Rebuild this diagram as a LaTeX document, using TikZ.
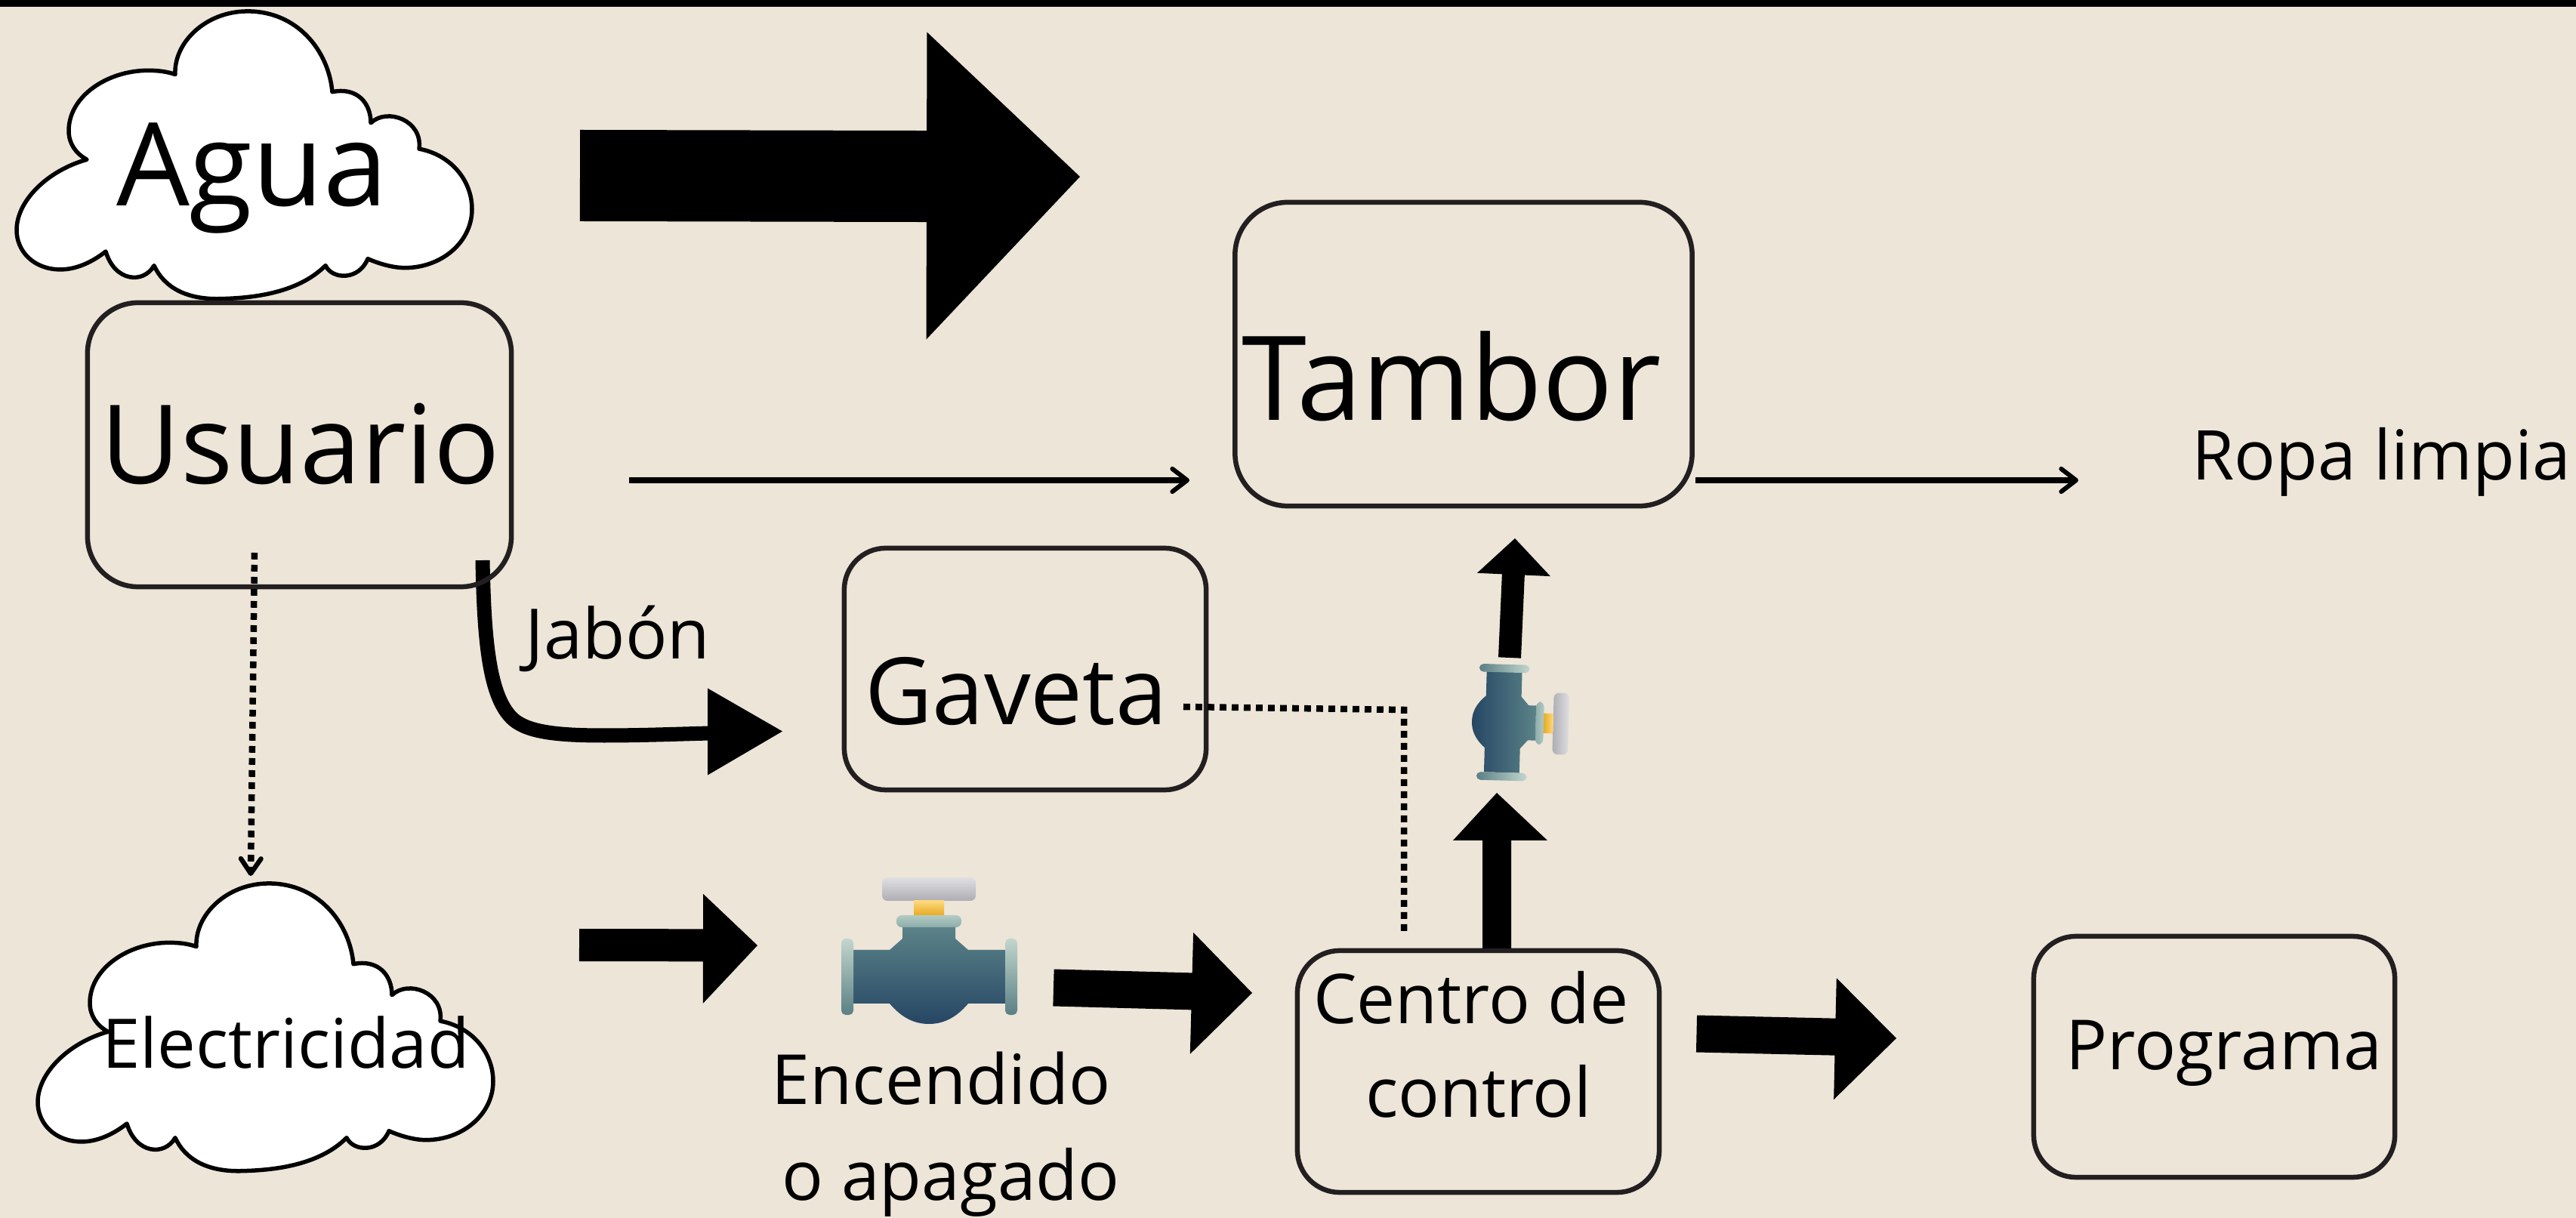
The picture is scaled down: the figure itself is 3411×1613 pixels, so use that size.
\documentclass[tikz,border=0pt]{standalone}
\usepackage{fontspec}
\setmainfont{Open Sans}
\usetikzlibrary{calc,arrows.meta}
\definecolor{bgc}{HTML}{ECE5D8}
\definecolor{boxc}{HTML}{231F20}
\definecolor{hndA}{HTML}{E0DFE3}
\definecolor{hndB}{HTML}{AEADB3}
\definecolor{stmA}{HTML}{FDD97E}
\definecolor{stmB}{HTML}{E6A81C}
\definecolor{colA}{HTML}{B3CBC3}
\definecolor{colB}{HTML}{8CACAA}
\definecolor{bodA}{HTML}{5B8388}
\definecolor{bodB}{HTML}{264664}
\definecolor{flgA}{HTML}{C2D6CC}
\definecolor{flgB}{HTML}{5A7F85}
\def\px{0.28453pt}
\newcommand\fsz[1]{\dimen0=0.28453pt \dimen0=#1\dimen0 \fontsize{\the\dimen0}{\the\dimen0}\selectfont}
% block arrow: tail, tip, half shaft, head half left, head half right, head length
\newcommand\blockarrow[6]{%
  \coordinate (ba) at ($(#2)!#6*0.01cm!(#1)$);
  \fill[black] ($(#1)!#3*0.01cm!90:(#2)$) -- ($(ba)!#3*0.01cm!-90:(#1)$)
     -- ($(ba)!#4*0.01cm!-90:(#1)$) -- (#2) -- ($(ba)!#5*0.01cm!90:(#1)$)
     -- ($(ba)!#3*0.01cm!90:(#1)$) -- ($(#1)!#3*0.01cm!-90:(#2)$) -- cycle;}
\tikzset{
  lbl/.style={anchor=base,inner sep=0pt,outer sep=0pt,text=black,font=\fsz{#1}},
  boxst/.style={draw=boxc,line width=6.5*\px,inner sep=0pt,outer sep=0pt,rounded corners=#1*\px},
  thinarrow/.style={black,line width=8.5*\px,-{Straight Barb[length=5.6pt,width=8.6pt,line width=1.7pt,round]}},
  dotline/.style={black,line width=8.5*\px,dash pattern=on 2.5pt off 2.05pt},
  vshade/.style 2 args={top color=#1,bottom color=#2,shading angle=\valveang},
  cloudpic/.pic={
    \draw[fill=white,draw=black,line width=5.5*\px,line join=round,yscale=0.7467]
      (232,132) .. controls (230,76) and (272,20) .. (328,20)
      .. controls (393,20) and (435,89) .. (440,163)
      .. controls (473,154) and (491,183) .. (491,218)
      .. controls (513,190) and (560,214) .. (555,264)
      .. controls (598,275) and (625,321) .. (625,371)
      .. controls (625,429) and (585,475) .. (536,475)
      .. controls (522,475) and (504,469) .. (487,459)
      .. controls (475,498) and (440,496) .. (431,471)
      .. controls (393,522) and (330,529) .. (290,530)
      .. controls (246,531) and (217,509) .. (204,471)
      .. controls (190,504) and (152,500) .. (140,446)
      .. controls (121,466) and (100,478) .. (80,478)
      .. controls (45,478) and (22,446) .. (22,408)
      .. controls (22,357) and (62,303) .. (115,283)
      .. controls (100,272) and (91,254) .. (91,232)
      .. controls (91,170) and (143,125) .. (196,125)
      .. controls (210,125) and (221,127) .. (232,132) -- cycle;
  },
  valve/.pic={
    \path[vshade={hndA}{hndB},rounded corners=2pt] (-62,-97) rectangle (62,-66);
    \path[vshade={stmA}{stmB}] (-20,-66) rectangle (20,-46);
    \path[vshade={colA}{colB},rounded corners=2pt] (-43,-47) rectangle (43,-31);
    \path[vshade={bodA}{bodB}]
      (-35,-31) -- (35,-31) -- (35,-16) -- (52,-1) -- (101,-1) -- (101,70) -- (52,70)
      .. controls (35,90) and (18,97) .. (0,97)
      .. controls (-18,97) and (-35,90) .. (-52,70)
      -- (-101,70) -- (-101,-1) -- (-52,-1) -- (-35,-16) -- cycle;
    \path[vshade={flgA}{flgB},rounded corners=1.6pt] (-116,-16) rectangle (-100,85);
    \path[vshade={flgA}{flgB},rounded corners=1.6pt] (101,-16) rectangle (117,85);
  }
}
\begin{document}
\begin{tikzpicture}[x=0.01cm,y=-0.01cm]
\useasboundingbox (0,0) rectangle (3411,1613);
\fill[bgc] (0,0) rectangle (3411,1613);
\fill[black] (0,0) rectangle (3411,9);

% clouds
\pic (cloudagua) at (0,0) {cloudpic};
\pic (cloudelec) at (28,1155) {cloudpic};

% named free ends
\coordinate (bigtail) at (768,232.5);
\coordinate (bigtip) at (1430,234);
\coordinate (uttail) at (833,636);
\coordinate (uthead) at (1575,636);
\coordinate (tltail) at (2245,636);
\coordinate (tlhead) at (2752,636);
\coordinate (jabstart) at (639,742);
\coordinate (jabend) at (940,971);
\coordinate (jabbase) at (837,968.5);
\coordinate (jabtip) at (1036,968.5);
\coordinate (uedot) at (337,732);
\coordinate (uehead) at (332,1160);
\coordinate (gavdot) at (1567,936);
\coordinate (gavcorner) at (1859,940);
\coordinate (cendot) at (1859,1238);
\coordinate (elettail) at (767,1251.5);
\coordinate (elettip) at (1003,1252);
\coordinate (vctail) at (1395,1308);
\coordinate (vctip) at (1658,1315);
\coordinate (cptail) at (2246.5,1369);
\coordinate (cptip) at (2511,1375);
\coordinate (cvtail) at (1982,1256);
\coordinate (cvtip) at (1982,1050);
\coordinate (vttail) at (1999,871);
\coordinate (vttip) at (2006,713);

% Jabon curve under the box outline
\draw[black,line width=19*\px] (jabstart) .. controls (641,850) and (648,925) .. (680,953)
  .. controls (700,970) and (740,974) .. (800,974)
  .. controls (850,974) and (900,972) .. (jabend);
\fill[black] ($(jabtip)+(-99,-57)$) -- (jabtip) -- ($(jabtip)+(-99,58)$) -- cycle;

% boxes
\node[boxst=67,minimum width=561*\px,minimum height=376*\px] (usuario) at (396.5,589) {};
\node[boxst=70,minimum width=605*\px,minimum height=402*\px] (tambor) at (1938,469) {};
\node[boxst=55,minimum width=479*\px,minimum height=320*\px] (gaveta) at (1357.5,886) {};
\node[boxst=56,minimum width=479*\px,minimum height=320*\px] (centro) at (1957.5,1419) {};
\node[boxst=56,minimum width=478*\px,minimum height=319*\px] (programa) at (2932,1399.5) {};

% block arrows
\blockarrow{bigtail}{bigtip}{60.5}{191}{216}{203}
\blockarrow{elettail}{elettip}{21.5}{68}{77}{72}
\blockarrow{vctail}{vctip}{24.5}{78}{83}{80}
\blockarrow{cptail}{cptip}{24.5}{78}{83}{81}
\blockarrow{cvtail}{cvtip}{19}{58}{67}{63}
\blockarrow{vttail}{vttip}{15}{48}{49}{48}

% thin arrows
\draw[thinarrow] (uttail) -- (uthead);
\draw[thinarrow] (tltail) -- (tlhead);
\draw[dotline,-{Straight Barb[length=5.6pt,width=7.6pt,line width=1.8pt,round]}] (uedot) -- (uehead);
\draw[dotline] (gavdot) -- (gavcorner) -- (cendot);

% valves
\def\valveang{0}
\pic (valveone) at (1230,1259) {valve};
\def\valveang{-90}
\pic[scale=0.66,rotate=-91.6] (valvetwo) at (2013,957) {valve};

% labels
\node[lbl=153] (agualbl) at (334,273) {Agua};
\node[lbl=145] (usuariolbl) at (398,641) {Usuario};
\node[lbl=155] (tamborlbl) at (1922,557) {Tambor};
\node[lbl=123] (gavetalbl) at (1345.5,960) {Gaveta};
\node[lbl=92] (jabonlbl) at (818,873) {Jabón};
\node[lbl=90.5] (eleclbl) at (378.5,1415) {Electricidad};
\node[lbl=91.5] (enclbl) at (1246,1462) {Encendido};
\node[lbl=91] (apaglbl) at (1259,1589) {o apagado};
\node[lbl=91] (centrolbl) at (1948,1355) {Centro de};
\node[lbl=91] (controllbl) at (1958,1479) {control};
\node[lbl=91.5] (programalbl) at (2945,1416) {Programa};
\node[lbl=91] (ropalbl) at (3153,636) {Ropa limpia};
\end{tikzpicture}
\end{document}
